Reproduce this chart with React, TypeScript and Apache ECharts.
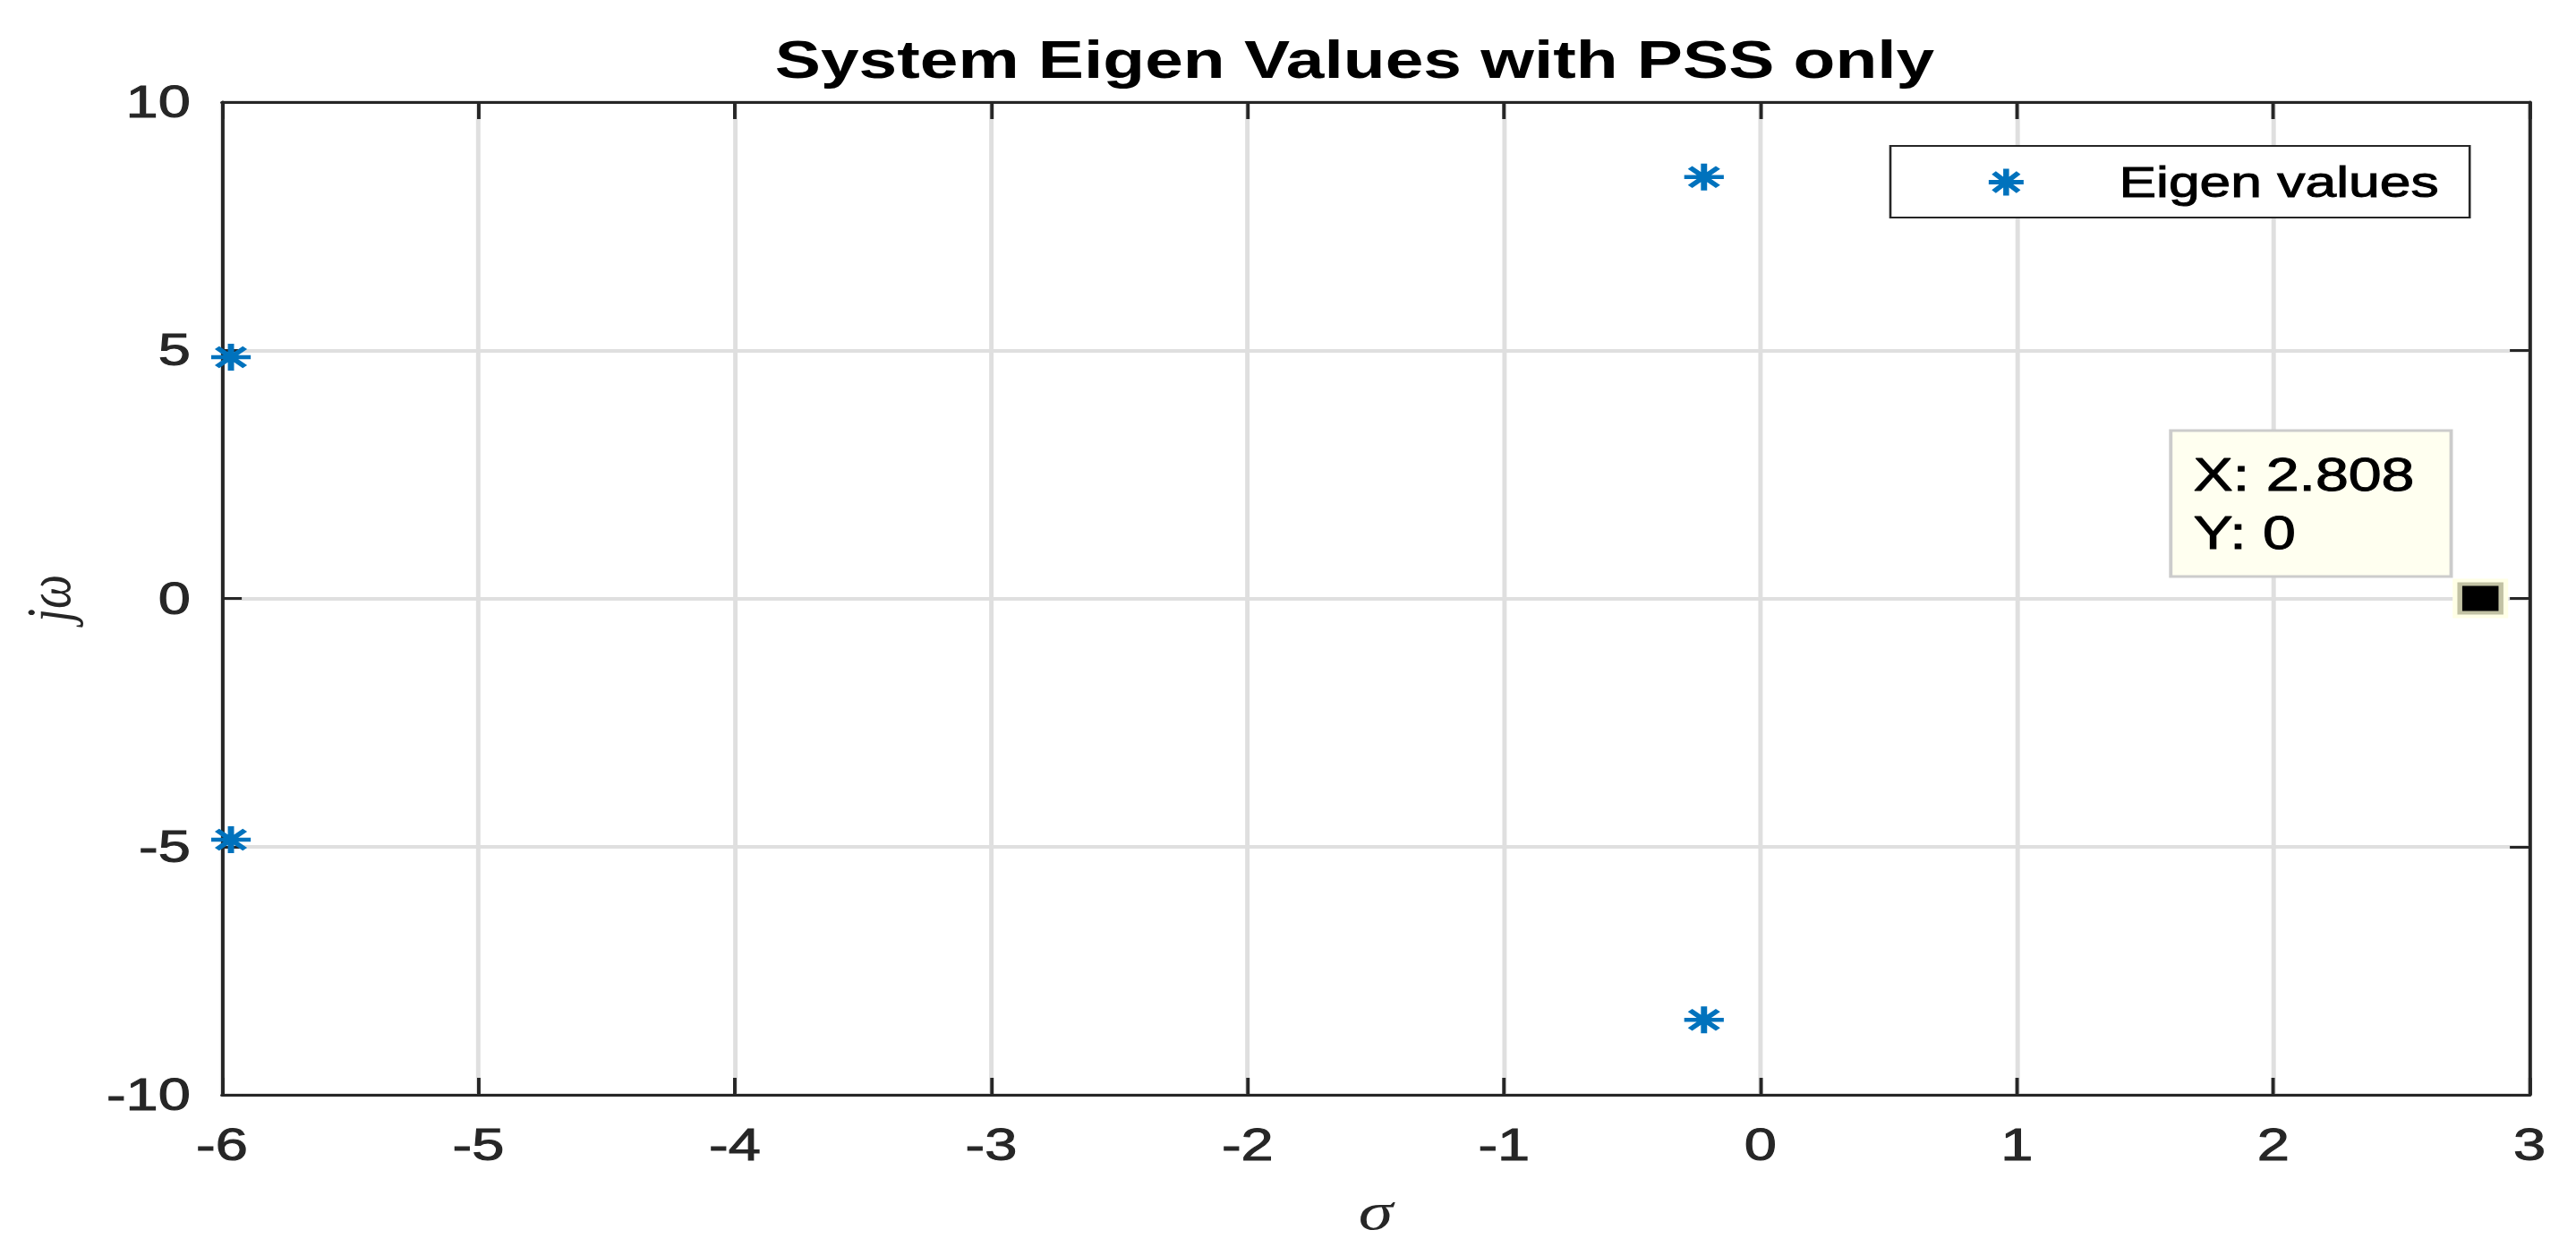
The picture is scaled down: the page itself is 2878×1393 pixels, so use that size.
import React, { useEffect, useRef } from "react";
import * as echarts from "echarts";

// ---- data ----
const seriesName = "Eigen values";
const eigenReal = [-5.965, -5.965, -0.22, -0.22, 2.808];
const eigenImag = [4.86, -4.86, 8.49, -8.49, 0];
const tipPoint = [2.808, 0];
const xRange = [-6, 3];
const xStep = 1;
const yRange = [-10, 10];
const yStep = 5;
const titleText = "System Eigen Values with PSS only";
const xName = "σ";
const yName = "jω";

// ---- layout (the reference is horizontally stretched) ----
const SX = 1.3;
const FULL_W = 2878;
const FULL_H = 1393;
const CW = FULL_W / SX;

const STAR =
  "path://M10 0L10 20M0 10L20 10M2.93 2.93L17.07 17.07M2.93 17.07L17.07 2.93";
const SANS = "'Liberation Sans', Arial, Helvetica, sans-serif";
const SERIF = "'Liberation Serif', 'Times New Roman', serif";
const AX = "#262626";
const BLUE = "#0072BD";

export default function App() {
  const ref = useRef<HTMLDivElement>(null);
  useEffect(() => {
    if (!ref.current) return;
    const chart = echarts.init(ref.current, null, { renderer: "svg" });
    const pts = eigenReal.map((x, i) => [x, eigenImag[i]]);
    const axisCommon = {
      type: "value" as const,
      axisLine: { show: true, onZero: false, lineStyle: { color: AX, width: 3 } },
    };
    const tickText = {
      fontSize: 50,
      color: AX,
      fontFamily: SANS,
      textBorderColor: AX,
      textBorderWidth: 1,
    };
    const option: any = {
      animation: false,
      backgroundColor: "#ffffff",
      title: {
        text: titleText,
        left: 1507 / SX,
        top: 32,
        textAlign: "center",
        textStyle: { fontSize: 59, fontWeight: "bold", color: "#000", fontFamily: SANS },
      },
      legend: {
        left: 2112 / SX,
        top: 163,
        data: [{ name: seriesName, icon: STAR }],
        itemWidth: 34,
        itemHeight: 30,
        itemStyle: { color: BLUE, borderColor: BLUE, borderWidth: 5, opacity: 1 },
        textStyle: {
          fontSize: 48,
          color: "#000",
          fontFamily: SANS,
          textBorderColor: "#000",
          textBorderWidth: 1,
          padding: [0, 0, 0, 75],
        },
        padding: [16, 26, 15, 82],
        borderColor: AX,
        borderWidth: 2,
        backgroundColor: "#ffffff",
        borderRadius: 0,
        selectedMode: false,
      },
      grid: {
        left: 248 / SX,
        right: (FULL_W - 2826) / SX,
        top: 114,
        bottom: FULL_H - 1223,
        containLabel: false,
      },
      xAxis: [
        {
          ...axisCommon,
          position: "bottom",
          min: xRange[0],
          max: xRange[1],
          interval: xStep,
          axisTick: { show: true, inside: true, length: 19, lineStyle: { color: AX, width: 3 } },
          axisLabel: { show: true, margin: 31, ...tickText },
          splitLine: { show: true, lineStyle: { color: "#dfdfdf", width: 3.8 } },
          name: xName,
          nameLocation: "middle",
          nameGap: 100,
          nameTextStyle: { fontSize: 60, fontStyle: "italic", color: AX, fontFamily: SERIF },
        },
        {
          ...axisCommon,
          position: "top",
          min: xRange[0],
          max: xRange[1],
          interval: xStep,
          axisTick: { show: true, inside: true, length: 19, lineStyle: { color: AX, width: 3 } },
          axisLabel: { show: false },
          splitLine: { show: false },
        },
      ],
      yAxis: [
        {
          ...axisCommon,
          position: "left",
          min: yRange[0],
          max: yRange[1],
          interval: yStep,
          axisTick: { show: true, inside: true, length: 17, lineStyle: { color: AX, width: 3 } },
          axisLabel: { show: true, margin: 27, ...tickText },
          splitLine: { show: true, lineStyle: { color: "#dfdfdf", width: 4 } },
          name: yName,
          nameLocation: "middle",
          nameGap: 122,
          nameRotate: 90,
          nameTextStyle: { fontSize: 54, fontStyle: "italic", color: AX, fontFamily: SERIF },
        },
        {
          ...axisCommon,
          position: "right",
          min: yRange[0],
          max: yRange[1],
          interval: yStep,
          axisTick: { show: true, inside: true, length: 17, lineStyle: { color: AX, width: 3 } },
          axisLabel: { show: false },
          splitLine: { show: false },
        },
      ],
      series: [
        {
          name: seriesName,
          type: "scatter",
          data: pts,
          symbol: STAR,
          symbolSize: [34, 30],
          symbolKeepAspect: false,
          itemStyle: { color: BLUE, borderColor: BLUE, borderWidth: 5, opacity: 1 },
          silent: true,
          z: 2,
        },
        {
          name: "tipHalo",
          type: "scatter",
          data: [tipPoint],
          symbol: "rect",
          symbolSize: [62 / SX, 44],
          itemStyle: { color: "#FFFFE6", opacity: 1 },
          silent: true,
          z: 3,
          label: {
            show: true,
            position: [(2427 - 2740) / SX, 483 - 647],
            align: "left",
            verticalAlign: "top",
            formatter: (p: any) => `X: ${p.value[0]}\nY: ${p.value[1]}`,
            fontSize: 51,
            lineHeight: 65,
            color: "#000",
            fontFamily: SANS,
            textBorderColor: "#000",
            textBorderWidth: 1,
            backgroundColor: "#FFFFF0",
            borderColor: "#CCCCCC",
            borderWidth: 3,
            padding: [15, 30, 15, 18],
          },
        },
        {
          name: "tipMarker",
          type: "scatter",
          data: [tipPoint],
          symbol: "rect",
          symbolSize: [46 / SX, 32],
          itemStyle: { color: "#000000", borderColor: "#C2C2A4", borderWidth: 4, opacity: 1 },
          silent: true,
          z: 4,
        },
      ],
    };
    chart.setOption(option);
    return () => chart.dispose();
  }, []);

  return (
    <div
      ref={ref}
      style={{
        position: "fixed",
        left: 0,
        top: 0,
        width: CW + "px",
        height: FULL_H + "px",
        transform: `scaleX(${SX})`,
        transformOrigin: "0 0",
        background: "#fff",
      }}
    />
  );
}
